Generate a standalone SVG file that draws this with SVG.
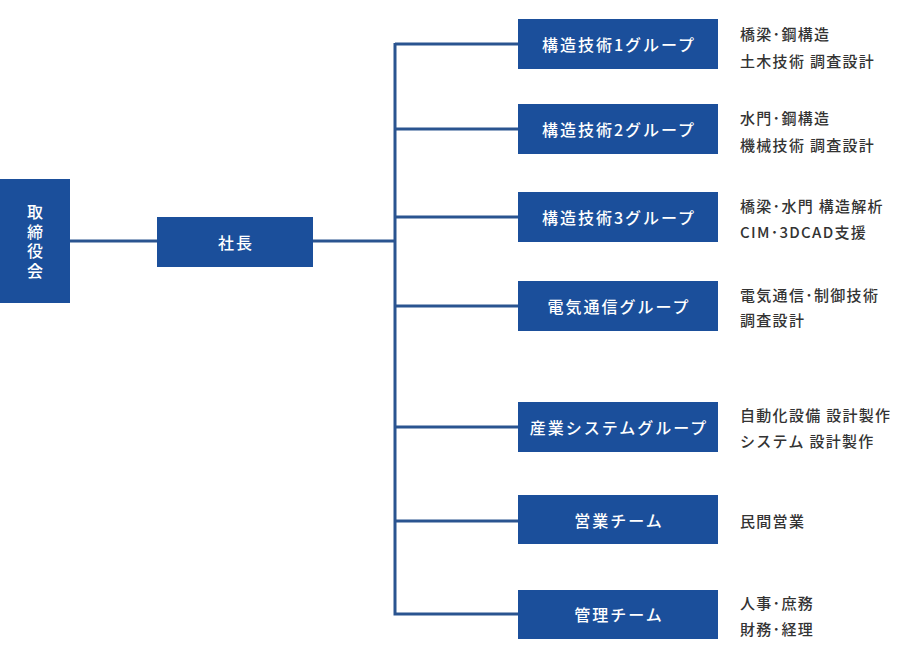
<svg xmlns="http://www.w3.org/2000/svg" width="900" height="665" viewBox="0 0 900 665">
<style>
.box{fill:#1b4f9b}
.bt{fill:#fff;font-family:"Noto Sans CJK JP","Noto Sans",sans-serif;font-size:16px;font-weight:500;text-anchor:middle;dominant-baseline:central;letter-spacing:2px}
.vt{fill:#fff;font-family:"Noto Sans CJK JP","Noto Sans",sans-serif;font-size:16px;font-weight:500;text-anchor:middle;writing-mode:vertical-rl;letter-spacing:3.5px}
.dt{fill:#333;font-family:"Noto Sans CJK JP","Noto Sans",sans-serif;font-size:15px;font-weight:500;dominant-baseline:central;letter-spacing:1.3px}
.ln{stroke:#2a5490;stroke-width:3;fill:none}
</style>
<rect width="900" height="665" fill="#fff"/>
<g id="connectors">
<path class="ln" d="M70 241H157M313 241H395M395 43V615.5M395 44H518M395 129H518M395 217H518M395 306H518M395 427H518M395 521H518M393.5 614H518"/>
</g>
<g id="board"><rect class="box" x="0" y="179" width="70" height="124"/>
<text class="vt" x="35" y="243">取締役会</text></g>
<g id="president"><rect class="box" x="157" y="217" width="156" height="50"/><text class="bt" x="236" y="242">社長</text></g>
<g id="g1"><rect class="box" x="518" y="19" width="200" height="50"/><text class="bt" x="619" y="44">構造技術1グループ</text>
<text class="dt" x="740" y="33">橋梁･鋼構造</text><text class="dt" x="740" y="60">土木技術 調査設計</text></g>
<g id="g2"><rect class="box" x="518" y="104" width="200" height="50"/><text class="bt" x="619" y="129">構造技術2グループ</text>
<text class="dt" x="740" y="117">水門･鋼構造</text><text class="dt" x="740" y="144">機械技術 調査設計</text></g>
<g id="g3"><rect class="box" x="518" y="192" width="200" height="50"/><text class="bt" x="619" y="217">構造技術3グループ</text>
<text class="dt" x="740" y="205">橋梁･水門 構造解析</text><text class="dt" x="740" y="231">CIM･3DCAD支援</text></g>
<g id="g4"><rect class="box" x="518" y="281" width="200" height="50"/><text class="bt" x="619" y="306">電気通信グループ</text>
<text class="dt" x="740" y="294">電気通信･制御技術</text><text class="dt" x="740" y="319">調査設計</text></g>
<g id="g5"><rect class="box" x="518" y="402" width="200" height="50"/><text class="bt" x="619" y="427">産業システムグループ</text>
<text class="dt" x="740" y="414">自動化設備 設計製作</text><text class="dt" x="740" y="440">システム 設計製作</text></g>
<g id="g6"><rect class="box" x="518" y="495" width="200" height="49"/><text class="bt" x="619" y="520">営業チーム</text>
<text class="dt" x="740" y="520">民間営業</text></g>
<g id="g7"><rect class="box" x="518" y="590" width="200" height="49"/><text class="bt" x="619" y="614">管理チーム</text>
<text class="dt" x="740" y="602">人事･庶務</text><text class="dt" x="740" y="628">財務･経理</text></g>
</svg>
